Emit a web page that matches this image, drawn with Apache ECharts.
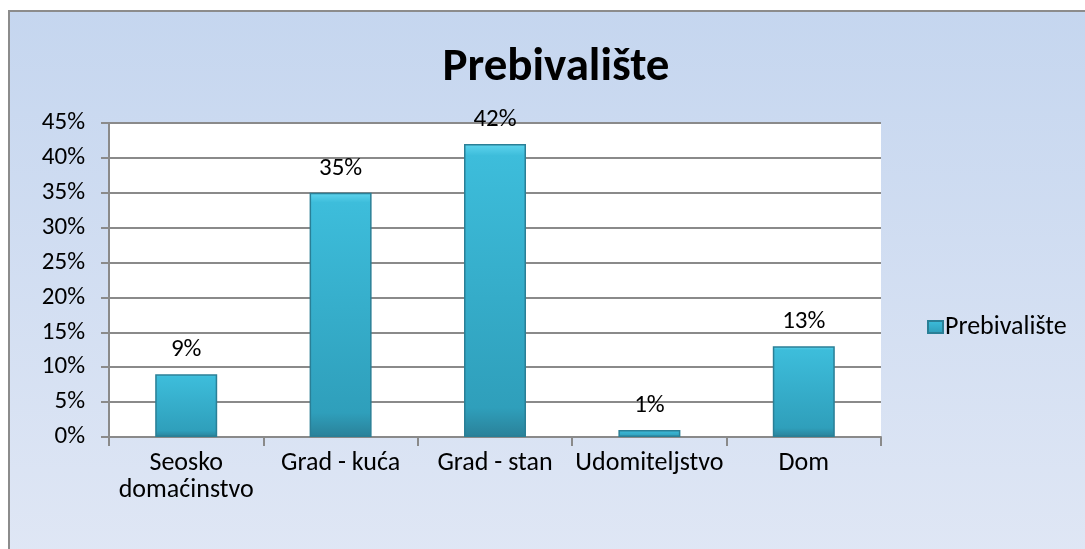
<!DOCTYPE html>
<html>
<head>
<meta charset="utf-8">
<script src="https://cdn.jsdelivr.net/npm/echarts@6/dist/echarts.min.js"></script>
<style>
    html, body { margin: 0; padding: 0; }
    #chart { width: 1085px; height: 549px; }
</style>
</head>
<body>
<div id="chart"></div>
<script>
    // podaci
    var categories = ['Seosko\ndomaćinstvo', 'Grad - kuća', 'Grad - stan', 'Udomiteljstvo', 'Dom'];
    var values = [9, 35, 42, 1, 13];
    var seriesName = 'Prebivalište';

    var font = 'Carlito, Lato, "Open Sans", sans-serif';
    var myChart = echarts.init(document.getElementById('chart'));

    myChart.setOption({
        animation: false,
        textStyle: { fontFamily: font },
        // pozadina okvira
        graphic: [{
            type: 'rect',
            z: -10,
            shape: { x: 9, y: 11, width: 1100, height: 560 },
            style: {
                fill: new echarts.graphic.LinearGradient(0, 0, 0, 1, [
                    { offset: 0, color: '#c5d6ef' },
                    { offset: 1, color: '#e0e7f5' }
                ]),
                stroke: '#8c8c8c',
                lineWidth: 2
            }
        }],
        title: {
            text: 'Prebivalište',
            left: 551,
            textAlign: 'center',
            top: 40,
            textStyle: { fontSize: 47, fontWeight: 'bold', color: '#000', fontFamily: font }
        },
        legend: {
            left: 922,
            top: 309,
            itemWidth: 15,
            itemHeight: 12,
            itemGap: 6,
            icon: 'rect',
            textStyle: { fontSize: 26, color: '#000', fontFamily: font, padding: [0, 0, 0, -3] },
            data: [seriesName]
        },
        grid: {
            left: 109,
            top: 123,
            width: 772,
            height: 314,
            show: true,
            backgroundColor: '#ffffff',
            borderWidth: 0
        },
        xAxis: {
            type: 'category',
            data: categories,
            axisLine: { lineStyle: { color: '#8a8a8a', width: 2 } },
            axisTick: { show: true, length: 9, lineStyle: { color: '#8a8a8a', width: 2 } },
            axisLabel: { fontSize: 26, color: '#000', margin: 13, lineHeight: 27, interval: 0 }
        },
        yAxis: {
            type: 'value',
            min: 0,
            max: 45,
            interval: 5,
            axisLine: { show: true, lineStyle: { color: '#8a8a8a', width: 2 } },
            axisTick: { show: true, length: 8, lineStyle: { color: '#8a8a8a', width: 2 } },
            splitLine: { lineStyle: { color: '#8a8a8a', width: 2 } },
            axisLabel: { fontSize: 25, color: '#000', margin: 24, formatter: '{value}%' }
        },
        series: [{
            name: seriesName,
            type: 'bar',
            barWidth: 62,
            data: values,
            label: {
                show: true,
                position: 'top',
                distance: 12,
                fontSize: 25,
                color: '#000',
                fontFamily: font,
                formatter: '{c}%'
            },
            itemStyle: {
                color: new echarts.graphic.LinearGradient(0, 0, 0, 1, [
                    { offset: 0, color: '#5fd5ee' },
                    { offset: 0.04, color: '#3dbddb' },
                    { offset: 0.9, color: '#2f9fbb' },
                    { offset: 1, color: '#2a8199' }
                ]),
                borderColor: '#2a7f96',
                borderWidth: 1.5
            }
        }]
    });
</script>
</body>
</html>
